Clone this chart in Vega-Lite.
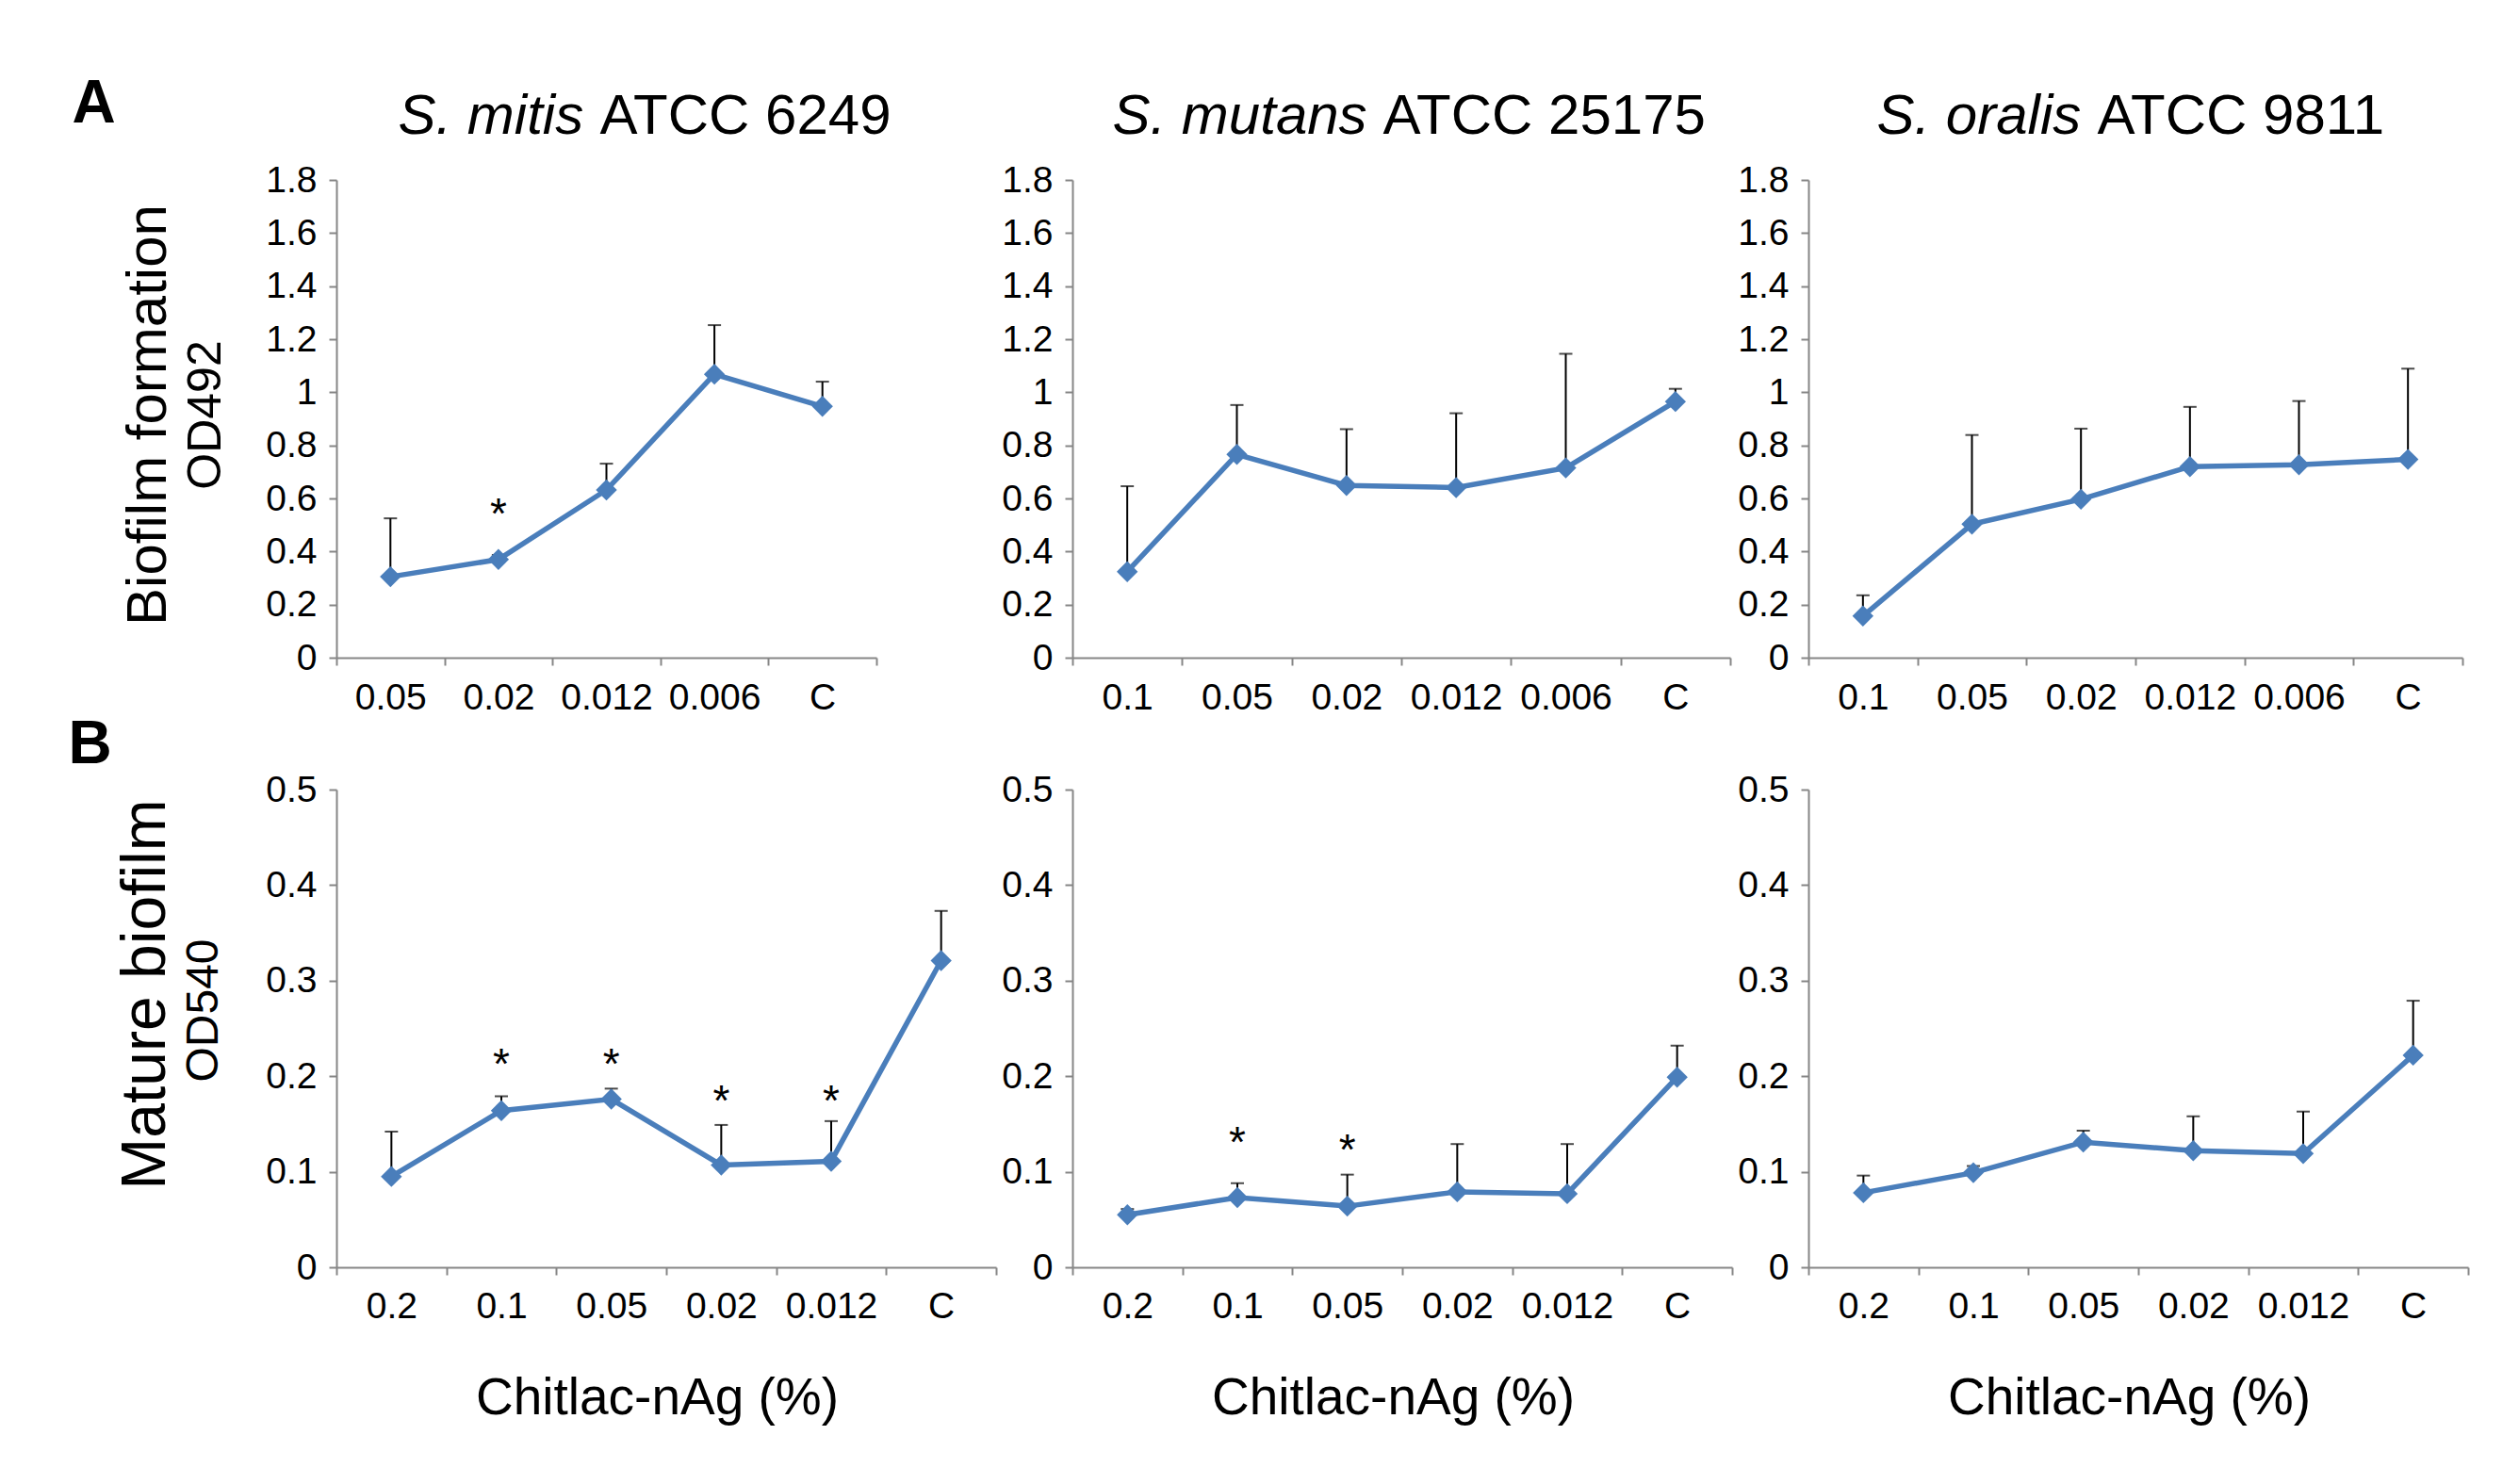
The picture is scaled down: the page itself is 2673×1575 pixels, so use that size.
{
  "$schema": "https://vega.github.io/schema/vega-lite/v6.json",
  "background": "white",
  "autosize": {"type": "pad"},
  "padding": {"left": 71, "top": 78, "right": 40, "bottom": 30},
  "columns": 3,
  "bounds": "flush",
  "spacing": {"row": 140, "column": 81},
  "concat": [
    {
      "width": 573, "height": 507,
      "data": {"values": [
        {"conc": "0.05", "value": 0.305, "upper": 0.525, "star": null},
        {"conc": "0.02", "value": 0.37, "upper": 0.387, "star": 0.58},
        {"conc": "0.012", "value": 0.632, "upper": 0.731, "star": null},
        {"conc": "0.006", "value": 1.068, "upper": 1.253, "star": null},
        {"conc": "C", "value": 0.947, "upper": 1.04, "star": null}
      ]},
      "layer": [
        {"mark": {"type": "rule", "color": "black", "strokeWidth": 2},
         "encoding": {
           "x": {"field": "conc", "type": "nominal", "scale": {"type": "band", "domain": ["0.05", "0.02", "0.012", "0.006", "C"], "paddingInner": 0, "paddingOuter": 0}, "axis": {"title": null, "labelPadding": 15}},
           "y": {"field": "value", "type": "quantitative", "scale": {"domain": [0, 1.8], "nice": false},
           "axis": {"orient": "left", "labels": false, "ticks": false, "domain": false, "title": "Biofilm formation", "titleFontSize": 60, "titleX": -200, "titleY": 249, "titleAlign": "center", "titleBaseline": "middle"}},
           "y2": {"field": "upper"}}},
        {"mark": {"type": "tick", "color": "black", "size": 14, "thickness": 2},
         "encoding": {
           "x": {"field": "conc", "type": "nominal", "scale": {"type": "band", "domain": ["0.05", "0.02", "0.012", "0.006", "C"], "paddingInner": 0, "paddingOuter": 0}, "axis": {"orient": "top", "labels": false, "ticks": false, "domain": false, "title": "S. mitis", "titleFontStyle": "italic", "titleFontSize": 60, "titleX": 65, "titleY": -50, "titleAlign": "left", "titleBaseline": "alphabetic", "titleAngle": 0}},
           "y": {"field": "upper", "type": "quantitative", "scale": {"domain": [0, 1.8], "nice": false},
           "axis": {"orient": "left", "labels": false, "ticks": false, "domain": false, "title": "A", "titleFontSize": 64, "titleFontWeight": "bold", "titleAngle": 0, "titleX": -258, "titleY": -81, "titleAlign": "center", "titleBaseline": "middle"}}}},
        {"mark": {"type": "line", "color": "#4A7EBB", "strokeWidth": 5.5},
         "encoding": {
           "x": {"field": "conc", "type": "nominal", "scale": {"type": "band", "domain": ["0.05", "0.02", "0.012", "0.006", "C"], "paddingInner": 0, "paddingOuter": 0}, "axis": {"orient": "top", "labels": false, "ticks": false, "domain": false, "title": "ATCC 6249", "titleFontSize": 60, "titleX": 279, "titleY": -50, "titleAlign": "left", "titleBaseline": "alphabetic", "titleAngle": 0}},
           "y": {"field": "value", "type": "quantitative", "scale": {"domain": [0, 1.8], "nice": false},
           "axis": {"orient": "left", "values": [0, 0.2, 0.4, 0.6, 0.8, 1, 1.2, 1.4, 1.6, 1.8], "format": "~g", "title": "OD492", "titleFontSize": 50, "titleX": -139, "titleY": 249, "titleAlign": "center", "titleBaseline": "middle"}}}},
        {"mark": {"type": "point", "shape": "diamond", "filled": true, "size": 500, "color": "#4A7EBB", "opacity": 1},
         "encoding": {
           "x": {"field": "conc", "type": "nominal", "scale": {"type": "band", "domain": ["0.05", "0.02", "0.012", "0.006", "C"], "paddingInner": 0, "paddingOuter": 0}, "axis": null},
           "y": {"field": "value", "type": "quantitative", "scale": {"domain": [0, 1.8], "nice": false}, "axis": null}}},
        {"transform": [{"filter": "datum.star != null"}],
         "mark": {"type": "text", "text": "*", "fontSize": 46, "baseline": "middle", "dy": 12, "color": "black"},
         "encoding": {
           "x": {"field": "conc", "type": "nominal", "scale": {"type": "band", "domain": ["0.05", "0.02", "0.012", "0.006", "C"], "paddingInner": 0, "paddingOuter": 0}, "axis": null},
           "y": {"field": "star", "type": "quantitative", "scale": {"domain": [0, 1.8], "nice": false}, "axis": null}}}
      ],
      "resolve": {"axis": {"x": "independent", "y": "independent"}}
    },
    {
      "width": 698, "height": 507,
      "data": {"values": [
        {"conc": "0.1", "value": 0.324, "upper": 0.646},
        {"conc": "0.05", "value": 0.766, "upper": 0.952},
        {"conc": "0.02", "value": 0.649, "upper": 0.861},
        {"conc": "0.012", "value": 0.641, "upper": 0.921},
        {"conc": "0.006", "value": 0.715, "upper": 1.145},
        {"conc": "C", "value": 0.965, "upper": 1.013}
      ]},
      "layer": [
        {"mark": {"type": "rule", "color": "black", "strokeWidth": 2},
         "encoding": {
           "x": {"field": "conc", "type": "nominal", "scale": {"type": "band", "domain": ["0.1", "0.05", "0.02", "0.012", "0.006", "C"], "paddingInner": 0, "paddingOuter": 0}, "axis": {"title": null, "labelPadding": 15}},
           "y": {"field": "value", "type": "quantitative", "scale": {"domain": [0, 1.8], "nice": false}, "axis": null}, "y2": {"field": "upper"}}},
        {"mark": {"type": "tick", "color": "black", "size": 14, "thickness": 2},
         "encoding": {
           "x": {"field": "conc", "type": "nominal", "scale": {"type": "band", "domain": ["0.1", "0.05", "0.02", "0.012", "0.006", "C"], "paddingInner": 0, "paddingOuter": 0}, "axis": {"orient": "top", "labels": false, "ticks": false, "domain": false, "title": "S. mutans", "titleFontStyle": "italic", "titleFontSize": 60, "titleX": 42, "titleY": -50, "titleAlign": "left", "titleBaseline": "alphabetic", "titleAngle": 0}},
           "y": {"field": "upper", "type": "quantitative", "scale": {"domain": [0, 1.8], "nice": false}, "axis": null}}},
        {"mark": {"type": "line", "color": "#4A7EBB", "strokeWidth": 5.5},
         "encoding": {
           "x": {"field": "conc", "type": "nominal", "scale": {"type": "band", "domain": ["0.1", "0.05", "0.02", "0.012", "0.006", "C"], "paddingInner": 0, "paddingOuter": 0}, "axis": {"orient": "top", "labels": false, "ticks": false, "domain": false, "title": "ATCC 25175", "titleFontSize": 60, "titleX": 329, "titleY": -50, "titleAlign": "left", "titleBaseline": "alphabetic", "titleAngle": 0}},
           "y": {"field": "value", "type": "quantitative", "scale": {"domain": [0, 1.8], "nice": false},
           "axis": {"orient": "left", "values": [0, 0.2, 0.4, 0.6, 0.8, 1, 1.2, 1.4, 1.6, 1.8], "format": "~g", "title": null}}}},
        {"mark": {"type": "point", "shape": "diamond", "filled": true, "size": 500, "color": "#4A7EBB", "opacity": 1},
         "encoding": {
           "x": {"field": "conc", "type": "nominal", "scale": {"type": "band", "domain": ["0.1", "0.05", "0.02", "0.012", "0.006", "C"], "paddingInner": 0, "paddingOuter": 0}, "axis": null},
           "y": {"field": "value", "type": "quantitative", "scale": {"domain": [0, 1.8], "nice": false}, "axis": null}}}
      ],
      "resolve": {"axis": {"x": "independent", "y": "independent"}}
    },
    {
      "width": 694, "height": 507,
      "data": {"values": [
        {"conc": "0.1", "value": 0.157, "upper": 0.235},
        {"conc": "0.05", "value": 0.503, "upper": 0.839},
        {"conc": "0.02", "value": 0.597, "upper": 0.863},
        {"conc": "0.012", "value": 0.72, "upper": 0.945},
        {"conc": "0.006", "value": 0.727, "upper": 0.967},
        {"conc": "C", "value": 0.747, "upper": 1.089}
      ]},
      "layer": [
        {"mark": {"type": "rule", "color": "black", "strokeWidth": 2},
         "encoding": {
           "x": {"field": "conc", "type": "nominal", "scale": {"type": "band", "domain": ["0.1", "0.05", "0.02", "0.012", "0.006", "C"], "paddingInner": 0, "paddingOuter": 0}, "axis": {"title": null, "labelPadding": 15}},
           "y": {"field": "value", "type": "quantitative", "scale": {"domain": [0, 1.8], "nice": false}, "axis": null}, "y2": {"field": "upper"}}},
        {"mark": {"type": "tick", "color": "black", "size": 14, "thickness": 2},
         "encoding": {
           "x": {"field": "conc", "type": "nominal", "scale": {"type": "band", "domain": ["0.1", "0.05", "0.02", "0.012", "0.006", "C"], "paddingInner": 0, "paddingOuter": 0}, "axis": {"orient": "top", "labels": false, "ticks": false, "domain": false, "title": "S. oralis", "titleFontStyle": "italic", "titleFontSize": 60, "titleX": 72, "titleY": -50, "titleAlign": "left", "titleBaseline": "alphabetic", "titleAngle": 0}},
           "y": {"field": "upper", "type": "quantitative", "scale": {"domain": [0, 1.8], "nice": false}, "axis": null}}},
        {"mark": {"type": "line", "color": "#4A7EBB", "strokeWidth": 5.5},
         "encoding": {
           "x": {"field": "conc", "type": "nominal", "scale": {"type": "band", "domain": ["0.1", "0.05", "0.02", "0.012", "0.006", "C"], "paddingInner": 0, "paddingOuter": 0}, "axis": {"orient": "top", "labels": false, "ticks": false, "domain": false, "title": "ATCC 9811", "titleFontSize": 60, "titleX": 306, "titleY": -50, "titleAlign": "left", "titleBaseline": "alphabetic", "titleAngle": 0}},
           "y": {"field": "value", "type": "quantitative", "scale": {"domain": [0, 1.8], "nice": false},
           "axis": {"orient": "left", "values": [0, 0.2, 0.4, 0.6, 0.8, 1, 1.2, 1.4, 1.6, 1.8], "format": "~g", "title": null}}}},
        {"mark": {"type": "point", "shape": "diamond", "filled": true, "size": 500, "color": "#4A7EBB", "opacity": 1},
         "encoding": {
           "x": {"field": "conc", "type": "nominal", "scale": {"type": "band", "domain": ["0.1", "0.05", "0.02", "0.012", "0.006", "C"], "paddingInner": 0, "paddingOuter": 0}, "axis": null},
           "y": {"field": "value", "type": "quantitative", "scale": {"domain": [0, 1.8], "nice": false}, "axis": null}}}
      ],
      "resolve": {"axis": {"x": "independent", "y": "independent"}}
    },
    {
      "width": 700, "height": 507,
      "data": {"values": [
        {"conc": "0.2", "value": 0.095, "upper": 0.142, "star": null},
        {"conc": "0.1", "value": 0.164, "upper": 0.179, "star": 0.223},
        {"conc": "0.05", "value": 0.176, "upper": 0.187, "star": 0.223},
        {"conc": "0.02", "value": 0.107, "upper": 0.149, "star": 0.184},
        {"conc": "0.012", "value": 0.111, "upper": 0.153, "star": 0.184},
        {"conc": "C", "value": 0.321, "upper": 0.373, "star": null}
      ]},
      "encoding": {"x": {"field": "conc", "type": "nominal", "scale": {"type": "band", "domain": ["0.2", "0.1", "0.05", "0.02", "0.012", "C"], "paddingInner": 0, "paddingOuter": 0}, "axis": {"title": "Chitlac-nAg (%)", "titleFontSize": 55, "titleY": 138, "titleX": 340, "titleBaseline": "middle", "labelPadding": 14}}},
      "layer": [
        {"mark": {"type": "rule", "color": "black", "strokeWidth": 2},
         "encoding": {"y": {"field": "value", "type": "quantitative", "scale": {"domain": [0, 0.5], "nice": false},
           "axis": {"orient": "left", "labels": false, "ticks": false, "domain": false, "title": "Mature biofilm", "titleFontSize": 66, "titleX": -203, "titleY": 217, "titleAlign": "center", "titleBaseline": "middle"}},
           "y2": {"field": "upper"}}},
        {"mark": {"type": "tick", "color": "black", "size": 14, "thickness": 2},
         "encoding": {"y": {"field": "upper", "type": "quantitative", "scale": {"domain": [0, 0.5], "nice": false},
           "axis": {"orient": "left", "labels": false, "ticks": false, "domain": false, "title": "B", "titleFontSize": 64, "titleFontWeight": "bold", "titleAngle": 0, "titleX": -262, "titleY": -48, "titleAlign": "center", "titleBaseline": "middle"}}}},
        {"mark": {"type": "line", "color": "#4A7EBB", "strokeWidth": 5.5},
         "encoding": {"y": {"field": "value", "type": "quantitative", "scale": {"domain": [0, 0.5], "nice": false},
           "axis": {"orient": "left", "values": [0, 0.1, 0.2, 0.3, 0.4, 0.5], "format": "~g", "title": "OD540", "titleFontSize": 48, "titleX": -141, "titleY": 234, "titleAlign": "center", "titleBaseline": "middle"}}}},
        {"mark": {"type": "point", "shape": "diamond", "filled": true, "size": 500, "color": "#4A7EBB", "opacity": 1},
         "encoding": {"y": {"field": "value", "type": "quantitative", "scale": {"domain": [0, 0.5], "nice": false}, "axis": null}}},
        {"transform": [{"filter": "datum.star != null"}],
         "mark": {"type": "text", "text": "*", "fontSize": 46, "baseline": "middle", "dy": 12, "color": "black"},
         "encoding": {"y": {"field": "star", "type": "quantitative", "scale": {"domain": [0, 0.5], "nice": false}, "axis": null}}}
      ],
      "resolve": {"axis": {"y": "independent"}}
    },
    {
      "width": 700, "height": 507,
      "data": {"values": [
        {"conc": "0.2", "value": 0.055, "upper": 0.061, "star": null},
        {"conc": "0.1", "value": 0.073, "upper": 0.088, "star": 0.141},
        {"conc": "0.05", "value": 0.064, "upper": 0.097, "star": 0.133},
        {"conc": "0.02", "value": 0.079, "upper": 0.129, "star": null},
        {"conc": "0.012", "value": 0.077, "upper": 0.129, "star": null},
        {"conc": "C", "value": 0.199, "upper": 0.232, "star": null}
      ]},
      "encoding": {"x": {"field": "conc", "type": "nominal", "scale": {"type": "band", "domain": ["0.2", "0.1", "0.05", "0.02", "0.012", "C"], "paddingInner": 0, "paddingOuter": 0}, "axis": {"title": "Chitlac-nAg (%)", "titleFontSize": 55, "titleY": 138, "titleX": 340, "titleBaseline": "middle", "labelPadding": 14}}},
      "layer": [
        {"mark": {"type": "rule", "color": "black", "strokeWidth": 2},
         "encoding": {"y": {"field": "value", "type": "quantitative", "scale": {"domain": [0, 0.5], "nice": false}, "axis": null}, "y2": {"field": "upper"}}},
        {"mark": {"type": "tick", "color": "black", "size": 14, "thickness": 2},
         "encoding": {"y": {"field": "upper", "type": "quantitative", "scale": {"domain": [0, 0.5], "nice": false}, "axis": null}}},
        {"mark": {"type": "line", "color": "#4A7EBB", "strokeWidth": 5.5},
         "encoding": {"y": {"field": "value", "type": "quantitative", "scale": {"domain": [0, 0.5], "nice": false},
           "axis": {"orient": "left", "values": [0, 0.1, 0.2, 0.3, 0.4, 0.5], "format": "~g", "title": null}}}},
        {"mark": {"type": "point", "shape": "diamond", "filled": true, "size": 500, "color": "#4A7EBB", "opacity": 1},
         "encoding": {"y": {"field": "value", "type": "quantitative", "scale": {"domain": [0, 0.5], "nice": false}, "axis": null}}},
        {"transform": [{"filter": "datum.star != null"}],
         "mark": {"type": "text", "text": "*", "fontSize": 46, "baseline": "middle", "dy": 12, "color": "black"},
         "encoding": {"y": {"field": "star", "type": "quantitative", "scale": {"domain": [0, 0.5], "nice": false}, "axis": null}}}
      ],
      "resolve": {"axis": {"y": "independent"}}
    },
    {
      "width": 700, "height": 507,
      "data": {"values": [
        {"conc": "0.2", "value": 0.078, "upper": 0.096},
        {"conc": "0.1", "value": 0.099, "upper": 0.106},
        {"conc": "0.05", "value": 0.131, "upper": 0.143},
        {"conc": "0.02", "value": 0.122, "upper": 0.158},
        {"conc": "0.012", "value": 0.119, "upper": 0.163},
        {"conc": "C", "value": 0.222, "upper": 0.279}
      ]},
      "encoding": {"x": {"field": "conc", "type": "nominal", "scale": {"type": "band", "domain": ["0.2", "0.1", "0.05", "0.02", "0.012", "C"], "paddingInner": 0, "paddingOuter": 0}, "axis": {"title": "Chitlac-nAg (%)", "titleFontSize": 55, "titleY": 138, "titleX": 340, "titleBaseline": "middle", "labelPadding": 14}}},
      "layer": [
        {"mark": {"type": "rule", "color": "black", "strokeWidth": 2},
         "encoding": {"y": {"field": "value", "type": "quantitative", "scale": {"domain": [0, 0.5], "nice": false}, "axis": null}, "y2": {"field": "upper"}}},
        {"mark": {"type": "tick", "color": "black", "size": 14, "thickness": 2},
         "encoding": {"y": {"field": "upper", "type": "quantitative", "scale": {"domain": [0, 0.5], "nice": false}, "axis": null}}},
        {"mark": {"type": "line", "color": "#4A7EBB", "strokeWidth": 5.5},
         "encoding": {"y": {"field": "value", "type": "quantitative", "scale": {"domain": [0, 0.5], "nice": false},
           "axis": {"orient": "left", "values": [0, 0.1, 0.2, 0.3, 0.4, 0.5], "format": "~g", "title": null}}}},
        {"mark": {"type": "point", "shape": "diamond", "filled": true, "size": 500, "color": "#4A7EBB", "opacity": 1},
         "encoding": {"y": {"field": "value", "type": "quantitative", "scale": {"domain": [0, 0.5], "nice": false}, "axis": null}}}
      ],
      "resolve": {"axis": {"y": "independent"}}
    }
  ],
  "config": {
    "font": "Liberation Sans",
    "view": {"stroke": null},
    "axis": {"grid": false, "domainColor": "#868686", "domainWidth": 2, "tickColor": "#868686", "tickWidth": 2, "tickSize": 8, "labelFontSize": 39, "labelColor": "black", "titleColor": "black", "titleFontWeight": "normal", "labelFont": "Liberation Sans", "titleFont": "Liberation Sans"},
    "axisX": {"labelAngle": 0, "tickBand": "extent"},
    "axisY": {"labelPadding": 13}
  }
}
